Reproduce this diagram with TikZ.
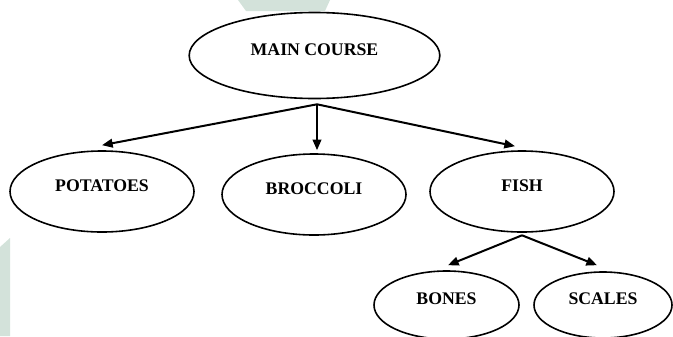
\documentclass[tikz,border=0pt]{standalone}
\usepackage{fontspec}
\setmainfont{Liberation Serif}
\usetikzlibrary{shapes.geometric,arrows.meta,calc}

\definecolor{wmgreen}{RGB}{211,226,218}

\tikzset{
    dish/.style={ellipse, draw, line width=1.2pt, inner sep=0pt, text depth=9pt,
        font=\fontsize{13.3}{15}\selectfont\bfseries},
    link/.style={line width=1.5pt, -{Triangle[length=8pt,width=6.5pt]}}
}

\begin{document}
\begin{tikzpicture}[x=0.75pt, y=-0.75pt]

    \useasboundingbox (0,0) rectangle (673,336);

    % Faint background marks
    \fill[wmgreen] (238,0) -- (330,0) -- (325,11) -- (246,11) -- cycle;
    \fill[wmgreen] (0,247) -- (10,238) -- (10,336) -- (0,336) -- cycle;

    % Main course
    \node[dish, minimum width=188pt, minimum height=64.5pt] (main) at (314.5,55.5) {MAIN COURSE};

    % Side dishes
    \node[dish, minimum width=138pt, minimum height=60.75pt] (pot) at (102,191.5) {POTATOES};
    \node[dish, minimum width=138pt, minimum height=60.75pt] (broc) at (314,194.5) {BROCCOLI};
    \node[dish, minimum width=138pt, minimum height=60.75pt] (fish) at (522,191.5) {FISH};

    % Parts of the fish
    \node[dish, minimum width=108.75pt, minimum height=51pt] (bones) at (446.5,305) {BONES};
    \node[dish, minimum width=103.5pt, minimum height=49.5pt] (scales) at (603,305) {SCALES};

    % Arrows
    \coordinate (split) at ($(main.south)+(2.5,5)$);
    \draw[link] (split) -- ($(pot.north)+(0,-5)$);
    \draw[link] (split) -- ($(broc.north)+(3,-3)$);
    \draw[link] (split) -- ($(fish.north)+(-7,-4)$);

    \coordinate (fsplit) at ($(fish.south)+(0,2.5)$);
    \draw[link] (fsplit) -- ($(bones.north)+(1.5,-5)$);
    \draw[link] (fsplit) -- ($(scales.north)+(-6,-6)$);

\end{tikzpicture}
\end{document}
